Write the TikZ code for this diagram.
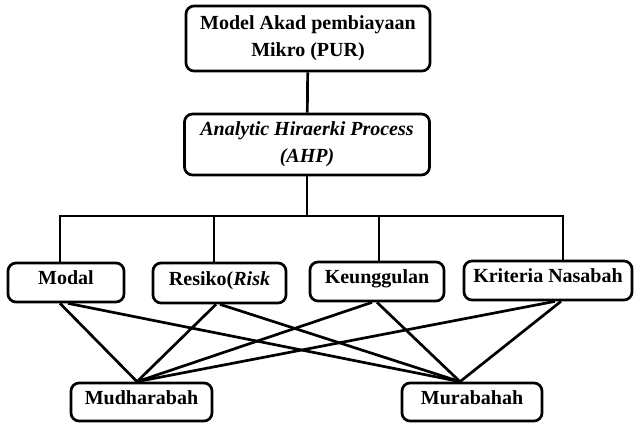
\documentclass[tikz,border=0pt]{standalone}
\usepackage{fontspec}
\setmainfont{Liberation Serif}
\begin{document}
\begin{tikzpicture}[x=1pt,y=-1pt,
  box/.style={draw, line width=2.7pt, rounded corners=8pt, inner sep=0pt, align=center,
    font=\fontsize{20}{27}\selectfont\bfseries},
  one/.style={text height=0.7em, text depth=0.22em},
  link/.style={line width=2.7pt}]
\useasboundingbox (0,0) rectangle (634,424);

\node[box, minimum width=244pt, minimum height=65pt] (top) at (308,38.5) {Model Akad pembiayaan\\Mikro (PUR)};
\node[box, minimum width=245pt, minimum height=61pt] (ahp) at (307,144.5) {\itshape Analytic Hiraerki Process\\\itshape (AHP)};

\node[box, one, minimum width=116pt, minimum height=39pt] (modal) at (66,282.5) {Modal};
\node[box, one, minimum width=133pt, minimum height=40pt] (resiko) at (219.5,283) {Resiko(\textit{Risk}};
\node[box, one, minimum width=134pt, minimum height=39pt] (keung) at (377,281.5) {Keunggulan};
\node[box, one, minimum width=168pt, minimum height=39pt] (krit) at (548,280.5) {Kriteria Nasabah};

\node[box, one, minimum width=141pt, minimum height=38pt] (mudh) at (141.5,402) {Mudharabah};
\node[box, one, minimum width=140pt, minimum height=38pt] (murab) at (472,402) {Murabahah};

\coordinate (bar) at (307,216);
\coordinate (m1) at (60,216);
\coordinate (m2) at (214,216);
\coordinate (m3) at (379,216);
\coordinate (m4) at (563,216);

\draw[link] (top) -- (ahp);
\draw[link] (ahp.south) -- (bar);
\draw[link, line cap=rect] (m1) -- (m4);
\draw[link] (m1) -- (modal.north -| m1);
\draw[link] (m2) -- (resiko.north -| m2);
\draw[link] (m3) -- (keung.north -| m3);
\draw[link] (m4) -- (krit.north -| m4);

\coordinate (mdtop) at ([xshift=-4.5pt]mudh.north);
\coordinate (mrtop) at ([xshift=-12pt]murab.north);

\draw[link] ([xshift=-6pt]modal.south) -- (mdtop);
\draw[link] ([xshift=2pt]modal.south) -- (mrtop);
\draw[link] ([xshift=-3.5pt]resiko.south) -- (mdtop);
\draw[link] ([xshift=0.5pt]resiko.south) -- (mrtop);
\draw[link] ([xshift=-5pt]keung.south) -- (mdtop);
\draw[link] ([xshift=0pt]keung.south) -- (mrtop);
\draw[link] ([xshift=7pt]krit.south) -- (mdtop);
\draw[link] ([xshift=13pt]krit.south) -- (mrtop);
\end{tikzpicture}
\end{document}
